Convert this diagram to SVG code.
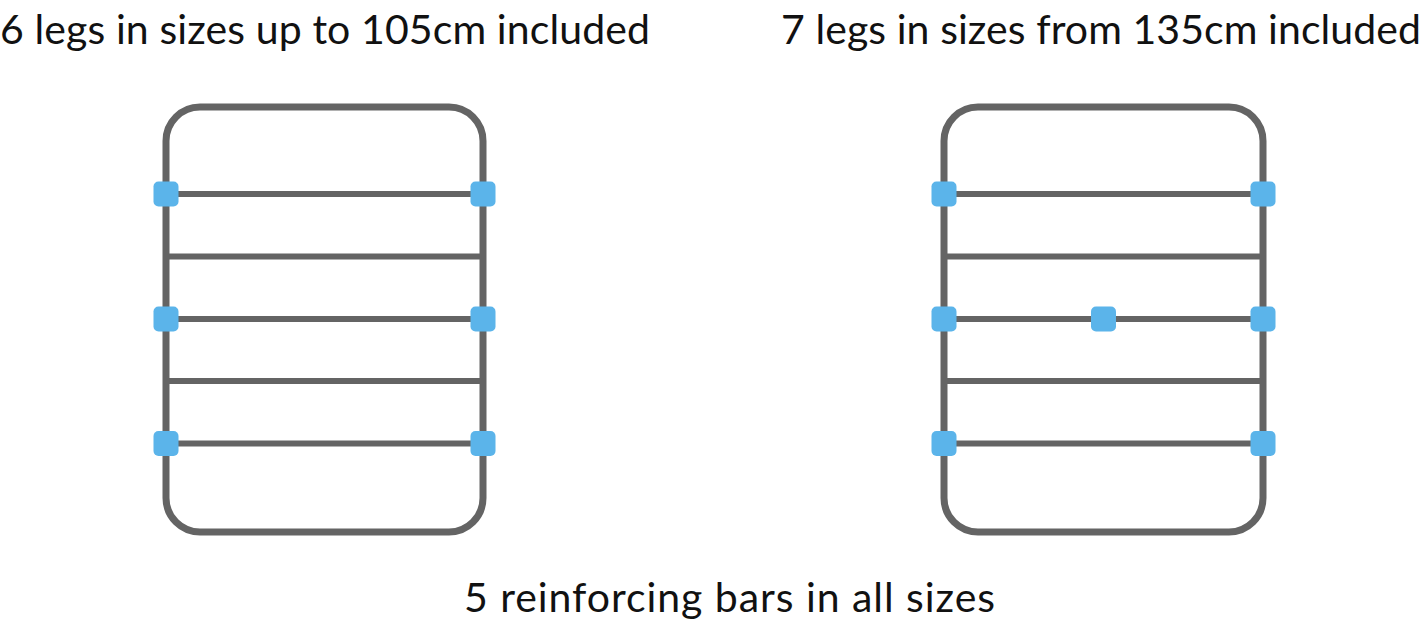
<svg xmlns="http://www.w3.org/2000/svg" width="1422" height="623" viewBox="0 0 1422 623">
<style>
.frame{fill:none;stroke:#646464;stroke-width:7}
.bar{stroke:#646464;stroke-width:6}
.leg{fill:#5BB4EA}
.lbl{font-family:Lato,"Open Sans","Liberation Sans",sans-serif;font-size:41px;fill:#111;font-weight:400}
</style>
<rect width="1422" height="623" fill="#fff"/>
<g id="title-left"><text class="lbl" x="0" y="44" textLength="650">6 legs in sizes up to 105cm included</text></g>
<g id="title-right"><text class="lbl" x="781" y="44" textLength="640">7 legs in sizes from 135cm included</text></g>
<g id="caption"><text class="lbl" x="464" y="612" textLength="531">5 reinforcing bars in all sizes</text></g>
<g id="frame-left">
<rect class="frame" x="166" y="107" width="317" height="425" rx="34"/>
<g id="bars-left">
<line class="bar" x1="166" y1="194" x2="483" y2="194"/>
<line class="bar" x1="166" y1="256.5" x2="483" y2="256.5"/>
<line class="bar" x1="166" y1="319" x2="483" y2="319"/>
<line class="bar" x1="166" y1="381" x2="483" y2="381"/>
<line class="bar" x1="166" y1="443.5" x2="483" y2="443.5"/>
</g>
<g id="legs-left">
<rect class="leg" x="153.5" y="181.5" width="25" height="25" rx="5"/>
<rect class="leg" x="470.5" y="181.5" width="25" height="25" rx="5"/>
<rect class="leg" x="153.5" y="306.5" width="25" height="25" rx="5"/>
<rect class="leg" x="470.5" y="306.5" width="25" height="25" rx="5"/>
<rect class="leg" x="153.5" y="431" width="25" height="25" rx="5"/>
<rect class="leg" x="470.5" y="431" width="25" height="25" rx="5"/>
</g>
</g>
<g id="frame-right">
<rect class="frame" x="944" y="107" width="319" height="425" rx="34"/>
<g id="bars-right">
<line class="bar" x1="944" y1="194" x2="1263" y2="194"/>
<line class="bar" x1="944" y1="256.5" x2="1263" y2="256.5"/>
<line class="bar" x1="944" y1="319" x2="1263" y2="319"/>
<line class="bar" x1="944" y1="381" x2="1263" y2="381"/>
<line class="bar" x1="944" y1="443.5" x2="1263" y2="443.5"/>
</g>
<g id="legs-right">
<rect class="leg" x="931.5" y="181.5" width="25" height="25" rx="5"/>
<rect class="leg" x="1250.5" y="181.5" width="25" height="25" rx="5"/>
<rect class="leg" x="931.5" y="306.5" width="25" height="25" rx="5"/>
<rect class="leg" x="1091" y="306.5" width="25" height="25" rx="5"/>
<rect class="leg" x="1250.5" y="306.5" width="25" height="25" rx="5"/>
<rect class="leg" x="931.5" y="431" width="25" height="25" rx="5"/>
<rect class="leg" x="1250.5" y="431" width="25" height="25" rx="5"/>
</g>
</g>
</svg>
